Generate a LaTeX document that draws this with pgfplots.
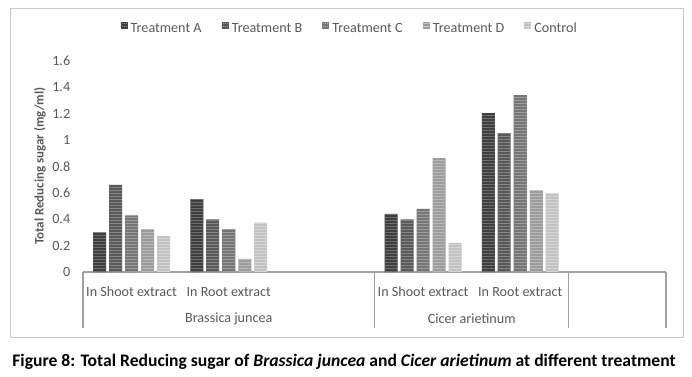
\documentclass[border=0pt]{standalone}
\usepackage{fontspec}
\setmainfont{Carlito}
\usepackage{pgfplots}
\pgfplotsset{compat=1.18}
\usetikzlibrary{patterns}
\definecolor{cA}{HTML}{3F3F3F}
\definecolor{cB}{HTML}{595959}
\definecolor{cC}{HTML}{767676}
\definecolor{cD}{HTML}{9C9C9C}
\definecolor{cE}{HTML}{C2C2C2}
\definecolor{sA}{HTML}{8A8A8A}
\definecolor{sB}{HTML}{9C9C9C}
\definecolor{sC}{HTML}{B0B0B0}
\definecolor{sD}{HTML}{C8C8C8}
\definecolor{sE}{HTML}{E2E2E2}
\definecolor{txt}{HTML}{595959}
\definecolor{axl}{HTML}{A0A0A0}
\definecolor{frm}{HTML}{C8C8C8}
\pgfdeclarepatternformonly{hstripe}{\pgfpointorigin}{\pgfpoint{1pt}{2pt}}{\pgfpoint{1pt}{2pt}}{%
  \pgfpathrectangle{\pgfpointorigin}{\pgfpoint{1.01pt}{0.6pt}}\pgfusepath{fill}}
\begin{document}
\begin{tikzpicture}
\path[use as bounding box] (0,0) rectangle (519pt,-282pt);
\draw[color=frm, line width=0.75pt] (7.5pt,-6pt) rectangle (512.25pt,-252.75pt);
\begin{axis}[
  at={(62.25pt,-204pt)}, anchor=south west,
  scale only axis, width=437.25pt, height=158.25pt,
  xmin=0, xmax=6, ymin=0, ymax=1.6,
  axis x line*=bottom, axis y line*=left,
  y axis line style={draw=none},
  x axis line style={color=axl, line width=0.9pt},
  major tick length=0pt,
  ytick={0,0.2,0.4,0.6,0.8,1,1.2,1.4,1.6},
  yticklabels={0,0.2,0.4,0.6,0.8,1,1.2,1.4,1.6},
  yticklabel style={anchor=east, inner sep=0pt, xshift=-9.4pt, font=\fontsize{10.6}{12}\selectfont, text=txt},
  xtick={0.5,1.5,3.5,4.5},
  xticklabels={In Shoot extract,In Root extract,In Shoot extract,In Root extract},
  xticklabel style={anchor=center, yshift=-15pt, font=\fontsize{10.6}{12}\selectfont, text=txt},
  ybar, bar width=0.134,
  legend style={at={(0.4557,1.156)}, anchor=center, draw=none, fill=none, legend columns=5,
    font=\fontsize{10.6}{12}\selectfont, text=txt, nodes={inner sep=0pt},
    /tikz/every odd column/.append style={column sep=2.4pt},
    /tikz/every even column/.append style={column sep=15pt}},
  legend image code/.code={\fill[#1] (0pt,-0.2pt) rectangle (5.25pt,5.05pt);},
  clip=false,
]
\addplot[fill=cA, draw=none, bar shift=-0.329, postaction={pattern=hstripe, pattern color=sA}] coordinates {(0.5,0.30) (1.5,0.553) (3.5,0.44) (4.5,1.205)};
\addplot[fill=cB, draw=none, bar shift=-0.165, postaction={pattern=hstripe, pattern color=sB}] coordinates {(0.5,0.66) (1.5,0.40) (3.5,0.40) (4.5,1.054)};
\addplot[fill=cC, draw=none, bar shift=0, postaction={pattern=hstripe, pattern color=sC}] coordinates {(0.5,0.43) (1.5,0.326) (3.5,0.478) (4.5,1.342)};
\addplot[fill=cD, draw=none, bar shift=0.165, postaction={pattern=hstripe, pattern color=sD}] coordinates {(0.5,0.326) (1.5,0.099) (3.5,0.864) (4.5,0.619)};
\addplot[fill=cE, draw=none, bar shift=0.329, postaction={pattern=hstripe, pattern color=sE}] coordinates {(0.5,0.273) (1.5,0.374) (3.5,0.22) (4.5,0.597)};
\legend{Treatment A,Treatment B,Treatment C,Treatment D,Control}
\draw[color=axl, line width=0.9pt] (axis cs:0,0) -- ++(0,-41.7pt);
\draw[color=axl, line width=0.9pt] (axis cs:3,0) -- ++(0,-41.7pt);
\draw[color=axl, line width=0.9pt] (axis cs:5,0) -- ++(0,-41.7pt);
\draw[color=axl, line width=0.9pt] (axis cs:6,0) -- ++(0,-41.7pt);
\node[font=\fontsize{10.6}{12}\selectfont, text=txt] at (axis cs:1.5,0) [yshift=-35.25pt] {Brassica juncea};
\node[font=\fontsize{10.6}{12}\selectfont, text=txt] at (axis cs:4,0) [yshift=-35.25pt] {Cicer arietinum};
\end{axis}
\node[rotate=90, font=\fontsize{9.7}{11}\selectfont\bfseries, text=txt] at (30pt,-124.5pt) {Total Reducing sugar (mg/ml)};
\node[font=\fontsize{13.2}{15}\selectfont\bfseries] at (258pt,-271.5pt) {Figure 8: Total Reducing sugar of \textit{Brassica juncea} and \textit{Cicer arietinum} at different treatment};
\end{tikzpicture}
\end{document}
